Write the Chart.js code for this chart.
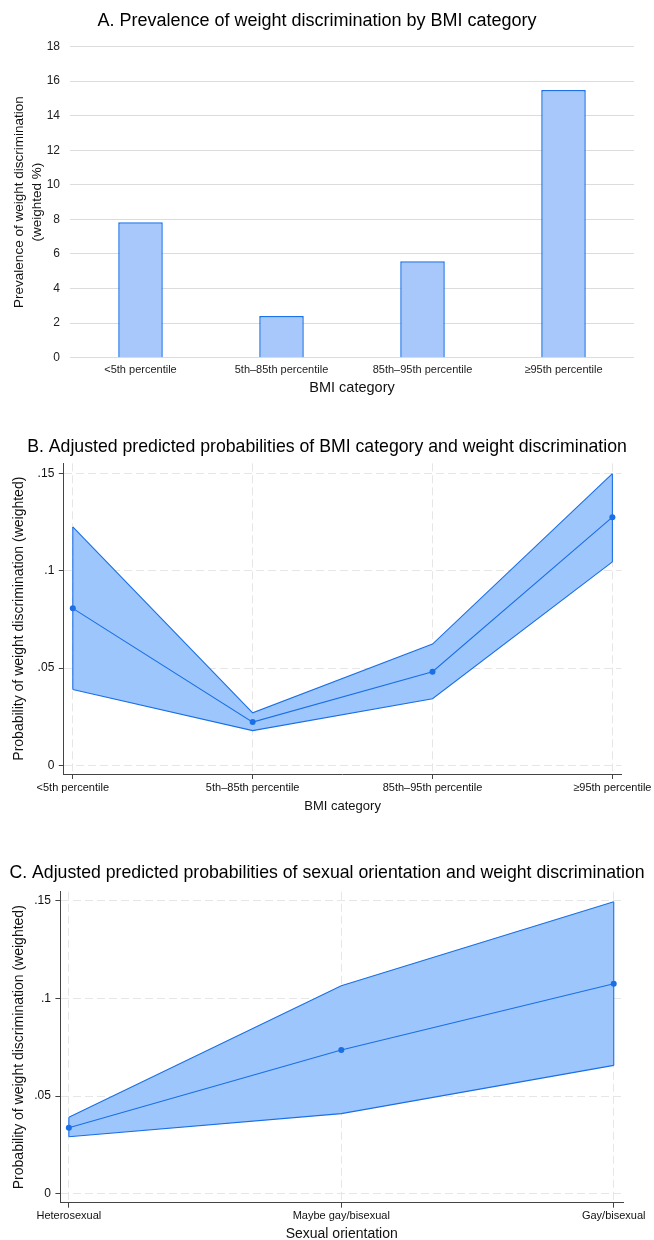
<!DOCTYPE html>
<html>
<head>
<meta charset="utf-8">
<script src="https://cdn.jsdelivr.net/npm/chart.js@4.4.1/dist/chart.umd.min.js"></script>
<style>
  html, body { margin: 0; padding: 0; background: #fff; overflow: hidden; }
  canvas { position: absolute; left: 0; }
</style>
</head>
<body>
<canvas id="chartA" width="654" height="405" style="top:0px"></canvas>
<canvas id="chartB" width="654" height="400" style="top:420px"></canvas>
<canvas id="chartC" width="654" height="410" style="top:830px"></canvas>
<script>
const bmiCategories = ['<5th percentile', '5th–85th percentile', '85th–95th percentile', '≥95th percentile']
const prevalence = [7.84, 2.41, 5.58, 15.49]

const bmiMean = [0.0807, 0.0222, 0.0481, 0.1276]
const bmiLower = [0.039, 0.0178, 0.0342, 0.1046]
const bmiUpper = [0.1226, 0.027, 0.0623, 0.15]

const orientCategories = ['Heterosexual', 'Maybe gay/bisexual', 'Gay/bisexual']
const orientMean = [0.0338, 0.0736, 0.1075]
const orientLower = [0.0292, 0.041, 0.0657]
const orientUpper = [0.0391, 0.1065, 0.1495]

const probTickValues = [0, 0.05, 0.1, 0.15]
const probTickLabels = ['0', '.05', '.1', '.15']

const FONT = '"Liberation Sans", Arial, Helvetica, sans-serif'
const BLUE = '#1a6fe6'
const BAND = '#9cc6fc'

Chart.defaults.font.family = FONT
Chart.defaults.color = '#111'
Chart.defaults.animation = false
Chart.defaults.plugins.legend.display = false
Chart.defaults.plugins.tooltip.enabled = false

// title over the whole canvas, not just the padded box
const fullWidthTitle = {
  id: 'fullWidthTitle',
  afterLayout (chart) {
    const t = chart.titleBlock
    t.left = 0
    t.right = chart.width
    t.width = chart.width
  }
}

new Chart(document.getElementById('chartA'), {
  type: 'bar',
  data: {
    labels: bmiCategories,
    datasets: [{
      data: prevalence,
      backgroundColor: '#a8c7fa',
      borderColor: '#1a73e8',
      borderWidth: 1.5,
      barPercentage: 0.316,
      categoryPercentage: 1
    }]
  },
  options: {
    responsive: false,
    layout: { padding: { left: 0, right: 20, top: 0, bottom: 0 } },
    plugins: {
      title: {
        display: true,
        text: 'A. Prevalence of weight discrimination by BMI category',
        font: { size: 18, weight: 'normal' },
        color: '#000',
        padding: { top: 10.2, bottom: 14.7 }
      }
    },
    scales: {
      x: {
        grid: { display: false, drawTicks: false, tickLength: 0 },
        border: { display: false },
        ticks: { font: { size: 11 }, padding: 5.7, color: '#222', maxRotation: 0, autoSkip: false },
        title: { display: true, text: 'BMI category', font: { size: 14.5 }, color: '#111', padding: { top: 0, bottom: 8.3 } },
        afterFit: (scale) => { scale.height = 47.3 }
      },
      y: {
        min: 0,
        max: 18,
        ticks: { stepSize: 2, font: { size: 12 }, padding: 10, color: '#222' },
        grid: { color: '#dcdcdc', drawTicks: false, tickLength: 0 },
        border: { display: false },
        title: {
          display: true,
          text: ['Prevalence of weight discrimination', '(weighted %)'],
          font: { size: 13.5, lineHeight: 1.37 },
          color: '#111',
          padding: { top: 9.75, bottom: 0 }
        },
        afterFit: (scale) => { scale.width = 70 }
      }
    }
  }
})

const toPoints = (arr) => arr.map((y, i) => ({ x: i, y: y }))
const edgeAt = (i, lower, upper) => [{ x: i, y: upper[i] }, { x: i, y: lower[i] }]

function probabilityChart (id, cfg) {
  const canvas = document.getElementById(id)
  const last = cfg.categories.length - 1
  const lineDs = (data, extra) => Object.assign({
    data: data,
    borderColor: BLUE,
    borderWidth: 1.1,
    pointRadius: 0,
    tension: 0,
    fill: false,
    clip: 6
  }, extra || {})

  return new Chart(canvas, {
    type: 'line',
    data: {
      datasets: [
        lineDs(toPoints(cfg.mean), { pointRadius: 3, pointBackgroundColor: BLUE, pointBorderWidth: 0 }),
        lineDs(edgeAt(0, cfg.lower, cfg.upper)),
        lineDs(edgeAt(last, cfg.lower, cfg.upper)),
        lineDs(toPoints(cfg.upper), { fill: '+1', backgroundColor: BAND }),
        lineDs(toPoints(cfg.lower))
      ]
    },
    options: {
      responsive: false,
      layout: { padding: { left: 0, right: canvas.width - cfg.area.right, top: 0, bottom: 0 } },
      plugins: {
        filler: { drawTime: 'beforeDatasetsDraw' },
        title: {
          display: true,
          text: cfg.title,
          font: { size: 17.7, weight: 'normal' },
          color: '#000',
          padding: cfg.titlePadding
        }
      },
      scales: {
        x: {
          type: 'linear',
          min: cfg.xMin,
          max: cfg.xMax,
          afterBuildTicks: (scale) => { scale.ticks = cfg.categories.map((c, i) => ({ value: i })) },
          ticks: {
            callback: (v) => cfg.categories[v],
            font: { size: 11 },
            color: '#111',
            padding: 2,
            maxRotation: 0,
            autoSkip: false
          },
          grid: { color: '#e6e6e6', tickColor: '#444', tickLength: 5, tickBorderDash: [] },
          border: { color: '#444', width: 1, dash: [8, 4] },
          title: { display: true, text: cfg.xTitle, font: { size: cfg.xTitleSize }, color: '#111', padding: { top: 0, bottom: cfg.xTitlePad } },
          afterFit: (scale) => { scale.height = canvas.height - cfg.area.bottom }
        },
        y: {
          min: cfg.yMin,
          max: cfg.yMax,
          afterBuildTicks: (scale) => { scale.ticks = probTickValues.map((v) => ({ value: v })) },
          ticks: {
            callback: (v) => probTickLabels[probTickValues.indexOf(v)],
            font: { size: 12 },
            color: '#111',
            padding: 4.5
          },
          grid: { color: '#e6e6e6', tickColor: '#444', tickLength: 5, tickBorderDash: [] },
          border: { color: '#444', width: 1, dash: [8, 4] },
          title: {
            display: true,
            text: 'Probability of weight discrimination (weighted)',
            font: { size: 14 },
            color: '#111',
            padding: { top: 10.35, bottom: 0 }
          },
          afterFit: (scale) => { scale.width = cfg.area.left }
        }
      }
    },
    plugins: [fullWidthTitle]
  })
}

probabilityChart('chartB', {
  categories: bmiCategories,
  lower: bmiLower,
  mean: bmiMean,
  upper: bmiUpper,
  title: 'B. Adjusted predicted probabilities of BMI category and weight discrimination',
  titlePadding: { top: 16.2, bottom: 5.9 },
  xTitle: 'BMI category',
  xTitleSize: 13,
  xTitlePad: 6.2,
  xMin: -0.05,
  xMax: 3.05,
  yMin: -0.0045,
  yMax: 0.1553,
  area: { left: 63.8, right: 622, top: 43, bottom: 354 }
})

probabilityChart('chartC', {
  categories: orientCategories,
  lower: orientLower,
  mean: orientMean,
  upper: orientUpper,
  title: 'C. Adjusted predicted probabilities of sexual orientation and weight discrimination',
  titlePadding: { top: 32.8, bottom: 7.7 },
  xTitle: 'Sexual orientation',
  xTitleSize: 14,
  xTitlePad: -2.4,
  xMin: -0.031,
  xMax: 2.034,
  yMin: -0.0046,
  yMax: 0.1546,
  area: { left: 60.4, right: 623, top: 61.7, bottom: 372.7 }
})
</script>
</body>
</html>
